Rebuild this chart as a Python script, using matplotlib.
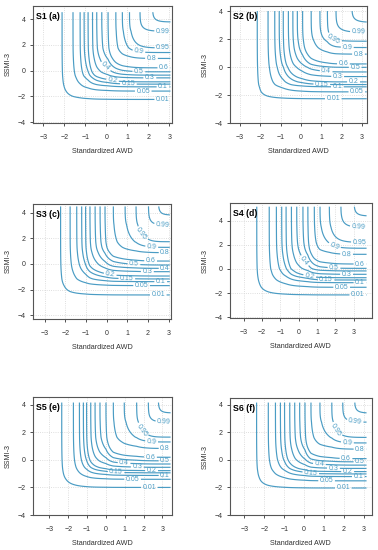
import numpy as np
import matplotlib
matplotlib.use("Agg")
import matplotlib.pyplot as plt
from statistics import NormalDist

plt.rcParams['font.family'] = ['Liberation Sans', 'DejaVu Sans']

# niveles de probabilidad conjunta (el último no lleva etiqueta en el original)
LEVELS = [0.01, 0.05, 0.1, 0.15, 0.2, 0.3, 0.4, 0.5, 0.6, 0.8, 0.9, 0.95, 0.99, 0.999]
LABELED = LEVELS[:13]
NAMES = ["S1 (a)", "S2 (b)", "S3 (c)", "S4 (d)", "S5 (e)", "S6 (f)"]

# posición de cada isolínea en x (parte vertical) y en y (parte horizontal)
S1_X = [-2.11, -1.59, -1.25, -1.06, -0.87, -0.66, -0.46, -0.22, 0.08, 0.45, 0.76, 1.10, 1.60, 2.20]
S1_Y = [-2.24, -1.59, -1.26, -1.05, -0.87, -0.56, -0.35, -0.09, 0.22, 0.95, 1.41, 1.77, 3.07, 3.79]
S2_X = [-2.15, -1.62, -1.29, -1.07, -0.87, -0.62, -0.40, -0.18, 0.08, 0.50, 0.93, 1.30, 1.72, 2.50]
S2_Y = [-2.25, -1.76, -1.40, -1.24, -1.05, -0.67, -0.34, -0.01, 0.23, 0.93, 1.40, 1.85, 2.49, 3.20]
S3_X = [-2.23, -1.77, -1.45, -1.21, -1.02, -0.81, -0.56, -0.32, -0.08, 0.32, 0.89, 1.42, 2.02, 2.50]
S3_Y = [-2.42, -1.69, -1.38, -1.17, -0.94, -0.60, -0.34, -0.08, 0.23, 0.89, 1.30, 1.74, 3.05, 3.83]
S4_X = [-2.29, -1.61, -1.22, -0.93, -0.69, -0.40, -0.11, 0.23, 0.50, 0.85, 1.16, 1.67, 2.30, 3.02]
S4_Y = [-2.14, -1.51, -1.13, -0.91, -0.72, -0.44, -0.16, 0.05, 0.41, 1.21, 1.71, 2.20, 3.44, 4.37]
S5_X = [-2.35, -1.73, -1.41, -1.20, -1.03, -0.81, -0.58, -0.32, 0.00, 0.39, 0.97, 1.63, 2.25, 2.78]
S5_Y = [-2.00, -1.41, -1.13, -0.94, -0.78, -0.54, -0.30, -0.07, 0.19, 0.83, 1.30, 1.65, 2.75, 3.41]
S6_X = [-2.39, -1.80, -1.44, -1.19, -0.98, -0.72, -0.47, -0.22, 0.05, 0.35, 0.80, 1.40, 1.95, 2.55]
S6_Y = [-2.04, -1.52, -1.21, -1.02, -0.85, -0.62, -0.38, -0.14, 0.09, 0.78, 1.23, 1.63, 2.74, 3.40]

# dependencia (Clayton)
THETA = 0.6

# etiquetas: número = distancia desde el extremo derecho; par (x, y) = cerca de la esquina
S1_LAB = [0.37, 1.29, 0.35, 2.0, 2.77, 0.98, (-0.11, 0.17), 1.5, 0.32, 0.9, (1.57, 1.72), 0.35, 0.37]
S2_LAB = [1.64, 0.49, 1.44, 2.21, 0.65, 1.43, 2.0, 0.57, 1.15, 0.41, 0.95, (1.67, 2.18), 0.41]
S3_LAB = [0.55, 1.36, 0.44, 2.08, 2.89, 1.08, 0.23, 1.73, 0.92, 0.23, 0.87, (1.61, 2.27), 0.34]
S4_LAB = [0.48, 1.36, 0.36, 2.21, 3.12, 1.09, (0.07, 0.41), 1.78, 0.36, 1.09, (1.98, 1.98), 0.39, 0.45]
S5_LAB = [1.13, 2.01, 0.29, 2.9, 1.01, 1.77, 2.47, 0.29, 1.06, 0.29, 1.01, (1.98, 2.24), 0.35]
S6_LAB = [1.17, 2.01, 0.41, 2.82, 0.95, 1.67, 2.38, 0.33, 1.03, 0.33, 0.97, (1.65, 2.22), 0.58]

W, H = 378, 550
# caja en pixeles (izq, arriba, der, abajo), límites, fin de la malla
LAYOUT = [
    (33.3, 6.0, 171.7, 122.7, (-3.48, 3.11), (-4.05, 5.03), 3.05, 4.55),
    (230.0, 6.0, 366.7, 123.3, (-3.49, 3.23), (-3.95, 4.36), 3.23, 4.0),
    (33.3, 204.0, 171.0, 319.0, (-3.55, 3.11), (-4.30, 4.69), 3.05, 4.5),
    (230.0, 203.3, 371.7, 318.3, (-3.75, 3.98), (-4.07, 5.42), 3.7, 5.14),
    (33.3, 397.3, 171.7, 515.0, (-3.86, 3.49), (-3.76, 4.54), 3.43, 4.16),
    (230.0, 398.3, 371.7, 515.0, (-3.73, 3.41), (-3.81, 4.47), 3.15, 4.16),
]

LINE = '#4a9cc4'
ND = NormalDist()
ZL = np.array([ND.inv_cdf(p) for p in LEVELS])
phi = np.vectorize(ND.cdf)


def marginal(t, pos):
    pos = np.asarray(pos, float)
    z = np.interp(t, pos, ZL)
    lo = (ZL[1] - ZL[0]) / (pos[1] - pos[0])
    hi = max((ZL[-1] - ZL[-2]) / (pos[-1] - pos[-2]), 1.0)
    z = np.where(t < pos[0], ZL[0] + (t - pos[0]) * lo, z)
    z = np.where(t > pos[-1], ZL[-1] + (t - pos[-1]) * hi, z)
    return phi(z)


def clayton(u, v, th):
    return (u ** -th + v ** -th - 1) ** (-1 / th)


fig = plt.figure(figsize=(W / 100, H / 100), dpi=100)
panels = [(S1_X, S1_Y, S1_LAB), (S2_X, S2_Y, S2_LAB), (S3_X, S3_Y, S3_LAB),
          (S4_X, S4_Y, S4_LAB), (S5_X, S5_Y, S5_LAB), (S6_X, S6_Y, S6_LAB)]

for name, (xs, ys, lab), (l, t, r, b, xlim, ylim, xend, ytop) in zip(NAMES, panels, LAYOUT):
    ax = fig.add_axes([l / W, 1 - b / H, (r - l) / W, (b - t) / H])
    ax.set_xlim(*xlim)
    ax.set_ylim(*ylim)
    gx = np.linspace(xlim[0], xend, 500)
    gy = np.linspace(ylim[0], ytop, 500)
    U, V = np.meshgrid(marginal(gx, xs), marginal(gy, ys))
    F = clayton(U, V, THETA)
    cs = ax.contour(gx, gy, F, levels=LEVELS, colors=LINE, linewidths=0.85)

    # punto de cada etiqueta, pegado a su propia isolínea
    tr = ax.transData
    spots = []
    for i, (ya, d) in enumerate(zip(ys, lab)):
        target = d if isinstance(d, tuple) else (xend - d, ya)
        pts = np.vstack(cs.allsegs[i])
        dist = np.hypot(*(tr.transform(pts) - tr.transform(target)).T)
        spots.append(tuple(pts[np.argmin(dist)]))
    ax.clabel(cs, LABELED, manual=spots, inline=True, inline_spacing=1.5,
              fmt=lambda v: f"{v:g}", fontsize=5, colors=LINE)

    ax.set_xticks(range(-3, 4))
    ax.set_yticks([-4, -2, 0, 2, 4])
    ax.grid(color='#d4d4d4', ls=':', lw=0.6)
    ax.set_axisbelow(True)
    for s in ax.spines.values():
        s.set_color('#555555')
        s.set_linewidth(0.8)
    ax.tick_params(axis='x', labelsize=5, colors='#333333', length=2.5, width=0.6, pad=5.5)
    ax.tick_params(axis='y', labelsize=5, colors='#333333', length=2.5, width=0.6, pad=3)
    ax.set_xlabel("Standardized AWD", fontsize=5.2, color='#333333', labelpad=5)
    ax.set_ylabel("SSMI-3", fontsize=5.2, color='#333333', labelpad=4)
    ax.text(0.02, 0.95, name, transform=ax.transAxes, fontsize=6.3,
            fontweight='bold', va='top', ha='left')

fig.savefig("out.png", dpi=100)
